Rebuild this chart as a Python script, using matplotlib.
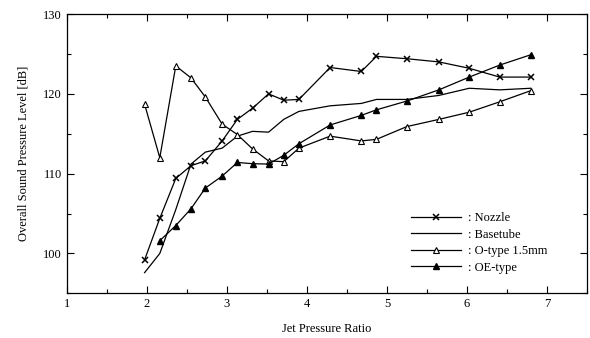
import numpy as np
import matplotlib.pyplot as plt
from matplotlib.ticker import MultipleLocator

plt.rcParams['font.family'] = ['Liberation Serif', 'DejaVu Serif']

# jet pressure ratios
jpr = [1.97, 2.16, 2.36, 2.55, 2.73, 2.94, 3.13, 3.32, 3.52, 3.71, 3.90,
       4.29, 4.68, 4.87, 5.25, 5.65, 6.03, 6.41, 6.80]

nozzle = [99.2, 104.4, 109.4, 111.0, 111.6, 114.1, 116.8, 118.2, 120.0, 119.2,
          119.3, 123.3, 122.8, 124.7, 124.4, 124.0, 123.2, 122.1, 122.1]
basetube = [97.6, 100.0, 105.5, 111.2, 112.7, 113.2, 114.7, 115.3, 115.2, 116.8,
            117.8, 118.5, 118.8, 119.3, 119.3, 119.8, 120.7, 120.5, 120.7]
o_type = [118.7, 112.0, 123.5, 122.0, 119.6, 116.2, 114.9, 113.1, 111.6, 111.5,
          113.2, 114.7, 114.1, 114.3, 115.9, 116.8, 117.7, 119.0, 120.4]
# OE-type starts at the second ratio
oe_type = [101.6, 103.5, 105.6, 108.2, 109.7, 111.4, 111.25, 111.2, 112.3,
           113.75, 116.1, 117.3, 118.0, 119.1, 120.5, 122.1, 123.6, 124.9]

fig = plt.figure(figsize=(5.9, 3.38), dpi=100)
ax = fig.add_axes([0.1136, 0.132, 0.881, 0.8265])

lw = 0.9
ax.plot(jpr, nozzle, color='black', lw=lw, marker='x', ms=5, mew=1.1,
        label=': Nozzle')
ax.plot(jpr, basetube, color='black', lw=lw, label=': Basetube')
ax.plot(jpr, o_type, color='black', lw=lw, marker='^', ms=5, mfc='white',
        mew=0.8, label=': O-type 1.5mm')
ax.plot(jpr[1:], oe_type, color='black', lw=lw, marker='^', ms=5,
        mfc='black', label=': OE-type')

ax.set_xlim(1, 7.5)
ax.set_ylim(95, 130)
ax.xaxis.set_major_locator(MultipleLocator(1))
ax.xaxis.set_minor_locator(MultipleLocator(0.5))
ax.yaxis.set_major_locator(MultipleLocator(10))
ax.yaxis.set_minor_locator(MultipleLocator(5))
ax.tick_params(which='both', direction='in', top=True, right=True,
               labelsize=9, width=0.8)
ax.tick_params(which='major', length=5)
ax.tick_params(which='minor', length=3)
for s in ax.spines.values():
    s.set_linewidth(0.9)

ax.set_xlabel('Jet Pressure Ratio', fontsize=9, labelpad=9)
ax.set_ylabel('Overall Sound Pressure Level [dB]', fontsize=9, labelpad=10)

ax.legend(loc='lower right', bbox_to_anchor=(0.933, 0.052), frameon=False,
          fontsize=9, handlelength=4.0, handletextpad=0.55, labelspacing=0.36,
          borderaxespad=0)

fig.savefig('out.png', dpi=100)
